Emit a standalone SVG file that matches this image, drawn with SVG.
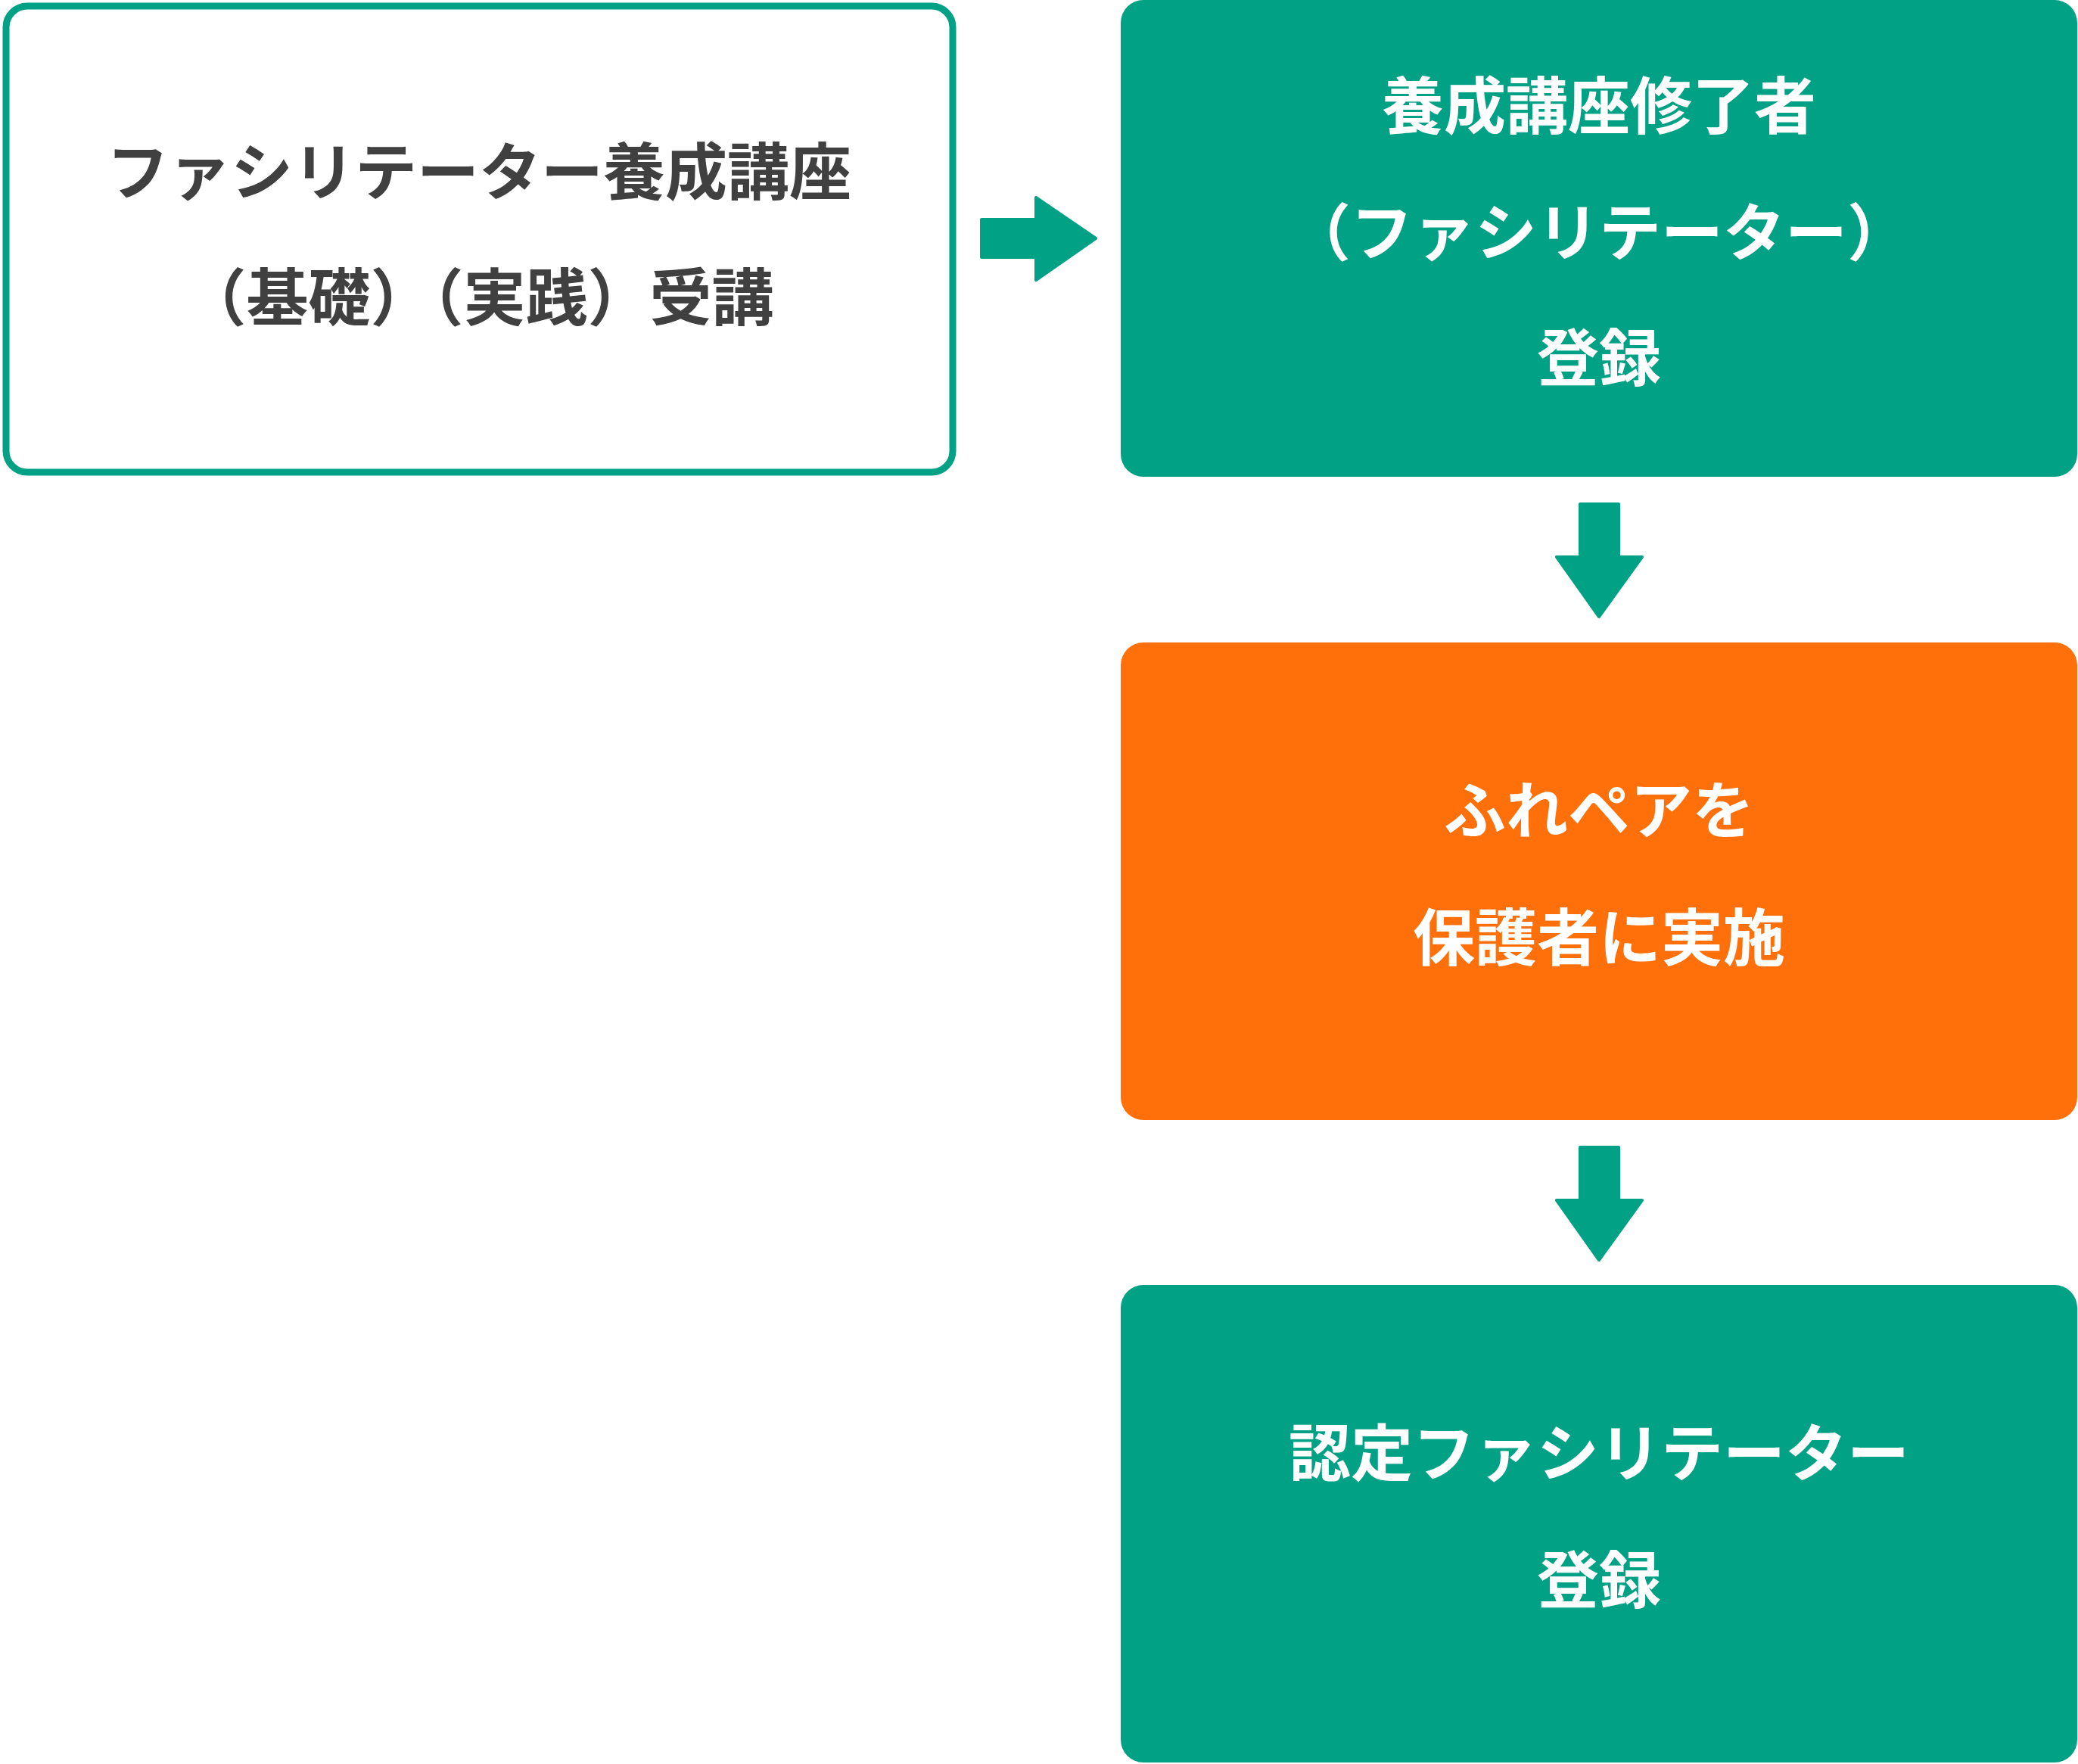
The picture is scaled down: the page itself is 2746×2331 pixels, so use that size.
<svg xmlns="http://www.w3.org/2000/svg" width="2746" height="2331" viewBox="0 0 2746 2331">
<style>
text{font-family:"Noto Sans CJK JP","Noto Sans",sans-serif;font-weight:700;font-size:82px;text-anchor:middle}
.d{fill:#404040}.w{fill:#ffffff}
.arr{fill:#00a184;stroke:#00a184;stroke-width:4;stroke-linejoin:round}
</style>
<rect width="2746" height="2331" fill="#ffffff"/>
<g id="connectors">
<path class="arr" d="M1297,290 H1369 V261 L1448,315 L1369,370 V340 H1297 Z"/>
<path class="arr" d="M2088,666 H2139 V736 H2170 L2113,815 L2057,736 H2088 Z"/>
<path class="arr" d="M2088,1516 H2139 V1586 H2170 L2113,1665 L2057,1586 H2088 Z"/>
</g>
<g id="n1">
<rect x="8" y="8" width="1251" height="616" rx="28" fill="#ffffff" stroke="#00a184" stroke-width="9"/>
<text class="d" x="633" y="257">ファシリテーター養成講座</text>
<text class="d" x="633" y="423">（基礎）（実践）受講</text>
</g>
<g id="n2">
<rect x="1481" y="0" width="1264" height="630" rx="30" fill="#00a184"/>
<text class="w" x="2113" y="170">養成講座修了者</text>
<text class="w" x="2113" y="337">（ファシリテーター）</text>
<text class="w" x="2113" y="503">登録</text>
</g>
<g id="n3">
<rect x="1481" y="849" width="1264" height="631" rx="30" fill="#ff6f0a"/>
<text class="w" x="2113" y="1101">ふれペアを</text>
<text class="w" x="2113" y="1269">保護者に実施</text>
</g>
<g id="n4">
<rect x="1481" y="1698" width="1264" height="631" rx="30" fill="#00a184"/>
<text class="w" x="2113" y="1950">認定ファシリテーター</text>
<text class="w" x="2113" y="2118">登録</text>
</g>
</svg>
